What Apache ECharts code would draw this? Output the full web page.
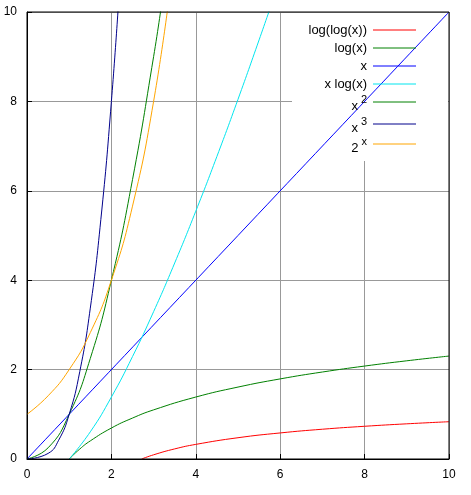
<!DOCTYPE html>
<html><head><meta charset="utf-8">
<script src="https://cdn.jsdelivr.net/npm/echarts@6/dist/echarts.min.js"></script>
<style>html,body{margin:0;padding:0;background:#fff}#c{width:471px;height:495px}</style>
</head><body><div id="c"></div>
<script>
const tickLabels=[0,2,4,6,8,10];
const loglogX=[[2.718,0],[3,0.094],[3.5,0.226],[4,0.327],[5,0.476],[6,0.583],[7,0.666],[8,0.732],[9,0.787],[10,0.834]];
const logX=[[1,0],[1.25,0.223],[1.5,0.405],[2,0.693],[2.5,0.916],[3,1.099],[4,1.386],[5,1.609],[6,1.792],[7,1.946],[8,2.079],[9,2.197],[10,2.303]];
const linX=[[0,0],[10,10]];
const xLogX=[[1,0],[1.5,0.608],[2,1.386],[2.5,2.291],[3,3.296],[3.5,4.385],[4,5.545],[4.5,6.768],[5,8.047],[5.5,9.376],[5.8,10.19]];
const xSq=[[0,0],[0.5,0.25],[1,1],[1.5,2.25],[2,4],[2.5,6.25],[3,9],[3.2,10.24]];
const xCube=[[0,0],[0.5,0.125],[0.75,0.42],[1,1],[1.25,1.953],[1.5,3.375],[1.75,5.36],[2,8],[2.2,10.65]];
const pow2=[[0,1],[0.5,1.414],[1,2],[1.5,2.828],[2,4],[2.5,5.657],[3,8],[3.4,10.56]];
const names=['log(log(x))','log(x)','x','x log(x)','x','x','2'];
const sups=['','','','','2','3','x'];
const colors=['#ff0000','#008000','#0000ff','#00e5ee','#008000','#00008b','#ffa500'];
const datas=[loglogX,logX,linX,xLogX,xSq,xCube,pow2];
const rowY=[30,48,66,84,102,124,144];
const chart=echarts.init(document.getElementById('c'));
const graphics=[{type:'rect',shape:{x:292,y:13,width:156,height:148},style:{fill:'#fff'},z:1}];
names.forEach((n,i)=>{
  graphics.push({type:'text',z:6,style:{text:sups[i]?'{b|'+n+'}{s|'+sups[i]+'}':'{b|'+n+'}',x:367,y:rowY[i],align:'right',verticalAlign:'middle',
    rich:{b:{fontSize:13,fontFamily:'Liberation Sans',fill:'#000',padding:sups[i]?[8,3,0,0]:0},s:{fontSize:11,fontFamily:'Liberation Sans',fill:'#000',padding:[0,0,4,0]}}}});
  graphics.push({type:'line',z:6,shape:{x1:373,y1:rowY[i],x2:416,y2:rowY[i]},style:{stroke:colors[i],lineWidth:1}});
});
chart.setOption({
  animation:false,
  grid:{left:27,right:22,top:12,bottom:36,show:true,borderColor:'#000',borderWidth:1,z:10},
  xAxis:{type:'value',min:0,max:10,interval:2,axisLine:{lineStyle:{color:'#000'}},axisTick:{inside:true,lineStyle:{color:'#000'}},
    axisLabel:{color:'#000',fontSize:12,fontFamily:'Liberation Sans',margin:10},splitLine:{lineStyle:{color:'#999',width:1}}},
  yAxis:{type:'value',min:0,max:10,interval:2,axisLine:{lineStyle:{color:'#000'}},axisTick:{inside:true,lineStyle:{color:'#000'}},
    axisLabel:{color:'#000',fontSize:12,fontFamily:'Liberation Sans',margin:10},splitLine:{lineStyle:{color:'#999',width:1}}},
  series:datas.map((d,i)=>({type:'line',data:d,smooth:true,showSymbol:false,clip:true,lineStyle:{color:colors[i],width:1},z:5})),
  graphic:graphics
});
</script></body></html>
